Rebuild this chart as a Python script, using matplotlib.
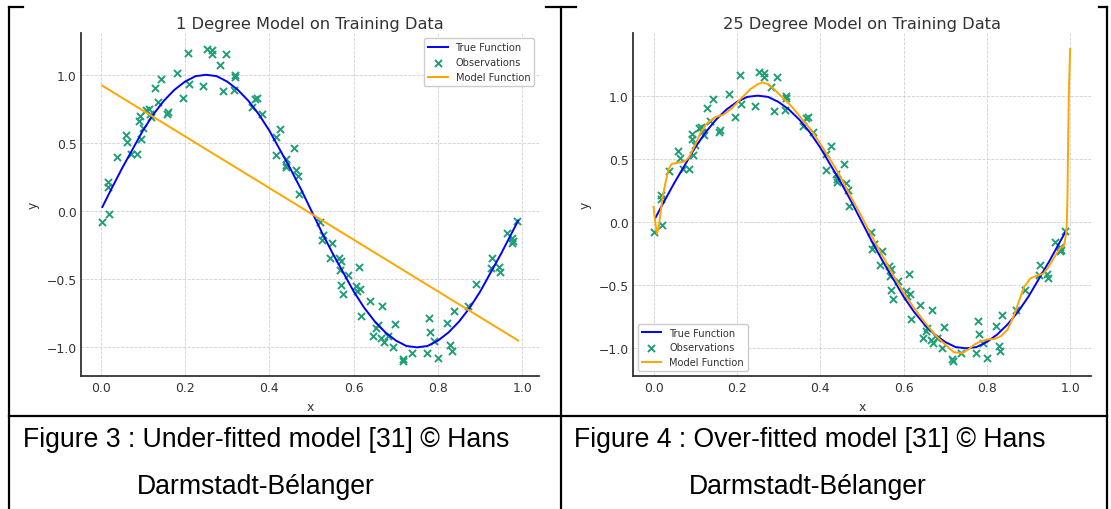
import matplotlib
matplotlib.use("Agg")
import matplotlib.pyplot as plt
from matplotlib.lines import Line2D

# ---------------- data ----------------
obs_x = [0.002, 0.018, 0.018, 0.020, 0.038, 0.059, 0.063, 0.071, 0.085, 0.093,
         0.092, 0.095, 0.100, 0.108, 0.115, 0.117, 0.120, 0.129, 0.136, 0.142,
         0.158, 0.160, 0.182, 0.196, 0.208, 0.210, 0.243, 0.253, 0.265, 0.265,
         0.283, 0.290, 0.296, 0.318, 0.318, 0.316, 0.358, 0.365, 0.370, 0.383,
         0.415, 0.425, 0.415, 0.439, 0.440, 0.440, 0.458, 0.462, 0.467, 0.470,
         0.521, 0.524, 0.528, 0.549, 0.543, 0.565, 0.569, 0.567, 0.586, 0.569,
         0.575, 0.605, 0.608, 0.613, 0.616, 0.618, 0.639, 0.668, 0.646, 0.653,
         0.657, 0.665, 0.671, 0.681, 0.693, 0.698, 0.716, 0.718, 0.738, 0.774,
         0.778, 0.781, 0.791, 0.800, 0.821, 0.829, 0.832, 0.837, 0.870, 0.891,
         0.928, 0.926, 0.944, 0.946, 0.963, 0.975, 0.978, 0.975, 0.988]
obs_y = [-0.08, 0.21, 0.18, -0.02, 0.40, 0.56, 0.51, 0.42, 0.42, 0.70,
         0.66, 0.53, 0.61, 0.74, 0.75, 0.71, 0.69, 0.90, 0.80, 0.97,
         0.71, 0.73, 1.01, 0.83, 1.16, 0.93, 0.92, 1.19, 1.18, 1.15,
         1.07, 0.88, 1.15, 1.00, 0.985, 0.89, 0.76, 0.82, 0.83, 0.71,
         0.54, 0.60, 0.41, 0.38, 0.34, 0.32, 0.46, 0.305, 0.256, 0.127,
         -0.083, -0.21, -0.176, -0.232, -0.342, -0.347, -0.37, -0.43, -0.47, -0.54,
         -0.61, -0.55, -0.587, -0.41, -0.57, -0.77, -0.66, -0.694, -0.92, -0.86,
         -0.836, -0.934, -0.958, -0.92, -1.00, -0.83, -1.085, -1.098, -1.04, -1.04,
         -0.787, -0.89, -0.954, -1.076, -0.82, -0.983, -1.024, -0.733, -0.70, -0.538,
         -0.342, -0.42, -0.408, -0.445, -0.159, -0.196, -0.22, -0.232, -0.073]

true_x = [0.004, 0.025, 0.05, 0.075, 0.1, 0.125, 0.15, 0.175, 0.2, 0.225,
          0.25, 0.275, 0.3, 0.325, 0.35, 0.375, 0.4, 0.425, 0.45, 0.475,
          0.5, 0.525, 0.55, 0.575, 0.6, 0.625, 0.65, 0.675, 0.7, 0.725,
          0.75, 0.775, 0.8, 0.825, 0.85, 0.875, 0.9, 0.925, 0.95, 0.975, 0.99]
true_y = [0.03, 0.16, 0.31, 0.45, 0.59, 0.71, 0.81, 0.89, 0.95, 0.99,
          1.00, 0.99, 0.95, 0.89, 0.81, 0.71, 0.59, 0.45, 0.31, 0.16,
          0.00, -0.16, -0.31, -0.45, -0.59, -0.71, -0.81, -0.89, -0.95, -0.99,
          -1.00, -0.99, -0.95, -0.89, -0.81, -0.71, -0.59, -0.45, -0.31, -0.16, -0.07]

lin_x = [0.004, 0.99]
lin_y = [0.92, -0.95]

poly_x = [0.0, 0.004, 0.008, 0.012, 0.016, 0.022, 0.028, 0.036, 0.044, 0.06,
          0.075, 0.085, 0.1, 0.112, 0.128, 0.148, 0.168, 0.188, 0.208, 0.232,
          0.25, 0.262, 0.275, 0.29, 0.308, 0.33, 0.355, 0.38, 0.4, 0.425,
          0.45, 0.475, 0.5, 0.525, 0.55, 0.575, 0.6, 0.625, 0.65, 0.675,
          0.7, 0.72, 0.74, 0.755, 0.77, 0.785, 0.8, 0.82, 0.835, 0.85,
          0.865, 0.88, 0.89, 0.905, 0.92, 0.935, 0.945, 0.96, 0.975, 0.985,
          0.99, 0.992, 0.9935, 0.995, 0.997, 1.0]
poly_y = [0.12, 0.0, -0.09, -0.05, 0.05, 0.20, 0.30, 0.42, 0.46, 0.47,
          0.48, 0.51, 0.61, 0.70, 0.78, 0.83, 0.85, 0.90, 0.97, 1.05,
          1.09, 1.105, 1.09, 1.05, 0.99, 0.92, 0.82, 0.72, 0.62, 0.49,
          0.35, 0.19, 0.04, -0.12, -0.27, -0.42, -0.56, -0.68, -0.79, -0.89,
          -0.97, -1.03, -1.04, -1.01, -0.97, -0.945, -0.93, -0.925, -0.90, -0.85,
          -0.74, -0.60, -0.51, -0.445, -0.425, -0.41, -0.37, -0.29, -0.21, -0.19,
          -0.10, 0.0, 0.2, 0.6, 1.05, 1.37]

titles = ["1 Degree Model on Training Data", "25 Degree Model on Training Data"]
captions1 = ["Figure 3 : Under-fitted model [31] \u00a9 Hans", "Figure 4 : Over-fitted model [31] \u00a9 Hans"]
captions2 = ["Darmstadt-B\u00e9langer", "Darmstadt-B\u00e9langer"]
labels = ["True Function", "Observations", "Model Function"]

# ---------------- figure ----------------
W, H = 1111, 510
fig = plt.figure(figsize=(W / 100, H / 100), dpi=100)
fig.patch.set_facecolor("white")

TXT = "#333333"
OBS_C = "#1f9e78"


def fx(px):
    return px / W


def fy(py):
    return 1 - py / H


def style(ax):
    for s in ["top", "right"]:
        ax.spines[s].set_visible(False)
    for s in ["left", "bottom"]:
        ax.spines[s].set_color("#333333")
        ax.spines[s].set_linewidth(1.3)
    ax.grid(True, linestyle="--", linewidth=0.6, color="#d0d0d0")
    ax.set_axisbelow(True)
    ax.tick_params(length=0, labelsize=8.9, colors=TXT, pad=3.5)
    ax.tick_params(axis="y", pad=3)
    ax.set_xlabel("x", fontsize=8.9, color=TXT, labelpad=4)
    ax.set_ylabel("y", fontsize=8.9, color=TXT, labelpad=5)
    ax.set_xticks([0.0, 0.2, 0.4, 0.6, 0.8, 1.0])
    ax.set_yticks([-1.0, -0.5, 0.0, 0.5, 1.0])


axes_specs = [
    (80.7, 539.0, lin_x, lin_y, "upper right"),
    (632.7, 1091.0, poly_x, poly_y, "lower left"),
]
for i, (x0, x1, mx, my, loc) in enumerate(axes_specs):
    ax = fig.add_axes([fx(x0), fy(377.3), fx(x1 - x0), (377.3 - 34.3) / H])
    l1, = ax.plot(true_x, true_y, color="blue", linewidth=1.4)
    sc = ax.scatter(obs_x, obs_y, marker="x", color=OBS_C, s=26, linewidths=1.4)
    l2, = ax.plot(mx, my, color="orange", linewidth=1.4)
    style(ax)
    ax.set_title(titles[i], fontsize=11.7, color=TXT, pad=3.6)
    leg = ax.legend([l1, sc, l2], labels, loc=loc, fontsize=7.1, scatterpoints=1,
                    frameon=True, framealpha=1.0, edgecolor="#cccccc")
    for t in leg.get_texts():
        t.set_color(TXT)

# captions
cap_font = ["Liberation Sans", "DejaVu Sans"]
fig.text(fx(22.7), fy(446.7), captions1[0], fontsize=19.2, family=cap_font, va="baseline", ha="left")
fig.text(fx(136.7), fy(494), captions2[0], fontsize=19.2, family=cap_font, va="baseline", ha="left")
fig.text(fx(574), fy(446.7), captions1[1], fontsize=19.2, family=cap_font, va="baseline", ha="left")
fig.text(fx(689), fy(494), captions2[1], fontsize=19.2, family=cap_font, va="baseline", ha="left")

# table borders
lw = 1.6
segs = [
    ([9, 9], [8.3, 510]),
    ([561, 561], [8.3, 510]),
    ([1107, 1107], [8.3, 510]),
    ([9, 1107], [417.3, 417.3]),
    ([9, 23], [8.3, 8.3]),
    ([546, 576], [8.3, 8.3]),
    ([1099, 1107], [8.3, 8.3]),
]
for xs, ys in segs:
    fig.add_artist(Line2D([fx(v) for v in xs], [fy(v) for v in ys], color="black",
                          linewidth=lw, solid_capstyle="projecting"))

fig.savefig("out.png", dpi=100, facecolor="white")
